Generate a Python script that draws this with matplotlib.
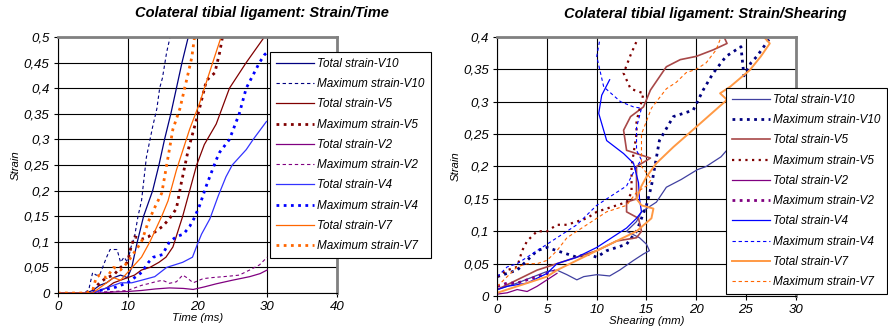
import matplotlib
matplotlib.use("Agg")
import matplotlib.pyplot as plt
from matplotlib.ticker import MultipleLocator, FuncFormatter

plt.rcParams['font.family'] = ['Liberation Sans', 'DejaVu Sans']

# ---- Strain / Time (left) ----
t_tot_v10 = [0, 4, 5, 6, 7, 8, 9, 10, 10.6, 11.4, 12.3, 13.6, 14.5, 15.3, 16.2, 17.0, 17.8, 18.7]
s_tot_v10 = [0, 0, 0.005, 0.015, 0.02, 0.03, 0.035, 0.03, 0.05, 0.1, 0.15, 0.2, 0.25, 0.3, 0.35, 0.4, 0.45, 0.5]
t_max_v10 = [4, 4.5, 5, 5.5, 6, 7, 7.5, 8.5, 9, 9.5, 10, 10.5, 11, 11.5, 12, 12.7, 13.6, 14.2, 14.6, 15, 15.6, 16.1]
s_max_v10 = [0, 0.01, 0.04, 0.035, 0.035, 0.07, 0.085, 0.085, 0.06, 0.07, 0.06, 0.09, 0.11, 0.15, 0.18, 0.265, 0.325, 0.36, 0.40, 0.42, 0.47, 0.5]
t_tot_v5 = [0, 5, 6, 7, 8, 9, 10, 11, 12, 13.2, 14.5, 15.5, 16.5, 17.2, 17.9, 18.7, 19.9, 21, 22.7, 24.6, 27, 29.6]
s_tot_v5 = [0, 0, 0.005, 0.01, 0.02, 0.025, 0.03, 0.035, 0.045, 0.05, 0.06, 0.07, 0.09, 0.12, 0.15, 0.19, 0.25, 0.29, 0.33, 0.40, 0.45, 0.5]
t_max_v5 = [4, 5, 6, 7, 8, 9, 10, 10.5, 11, 12, 13, 14, 15, 16, 17, 17.7, 18.7, 19.6, 20.3, 21.3, 22.5, 23.2, 23.6]
s_max_v5 = [0, 0.005, 0.02, 0.03, 0.035, 0.05, 0.06, 0.09, 0.11, 0.105, 0.11, 0.12, 0.13, 0.145, 0.165, 0.215, 0.28, 0.325, 0.36, 0.415, 0.43, 0.47, 0.5]
t_tot_v2 = [0, 6, 8, 10, 12, 14, 16, 18, 19.4, 21, 22.7, 25, 27.5, 29, 30]
s_tot_v2 = [0, 0, 0.002, 0.003, 0.005, 0.008, 0.01, 0.009, 0.007, 0.012, 0.018, 0.025, 0.032, 0.038, 0.045]
t_max_v2 = [4, 6, 8, 10, 11, 12, 13.2, 14, 15, 16, 17, 17.9, 18.5, 19.4, 20.8, 22, 24.6, 26, 27.5, 28.9, 30]
s_max_v2 = [0, 0.002, 0.003, 0.005, 0.01, 0.015, 0.019, 0.022, 0.025, 0.019, 0.022, 0.035, 0.03, 0.02, 0.028, 0.03, 0.033, 0.035, 0.045, 0.055, 0.07]
t_tot_v4 = [0, 5, 6, 7, 8, 9, 10.6, 12, 13.9, 15.6, 17.9, 19.3, 20, 20.6, 21.8, 23, 24.1, 25, 27, 28, 29.9]
s_tot_v4 = [0, 0, 0.005, 0.01, 0.015, 0.02, 0.02, 0.025, 0.032, 0.05, 0.06, 0.07, 0.095, 0.115, 0.145, 0.19, 0.227, 0.25, 0.28, 0.3, 0.335]
t_max_v4 = [4, 6, 8, 9, 10, 11, 12, 13, 13.7, 15, 16, 17, 18, 18.9, 19.5, 20.3, 21.3, 22.7, 23.2, 24.6, 26, 27, 28.9, 29.6, 30]
s_max_v4 = [0, 0.005, 0.01, 0.015, 0.02, 0.03, 0.04, 0.06, 0.07, 0.075, 0.1, 0.11, 0.115, 0.13, 0.145, 0.17, 0.21, 0.26, 0.275, 0.3, 0.35, 0.4, 0.45, 0.465, 0.47]
t_tot_v7 = [0, 5, 6, 7, 8, 9, 10, 11, 12, 13.2, 14.9, 15.8, 17, 18.9, 20.3, 22.2, 23.4]
s_tot_v7 = [0, 0, 0.01, 0.02, 0.03, 0.025, 0.04, 0.055, 0.07, 0.1, 0.15, 0.18, 0.24, 0.32, 0.37, 0.45, 0.5]
t_max_v7 = [0, 4, 5, 5.5, 6, 7, 8, 9, 10, 11, 12, 13, 14, 14.9, 15.8, 16.5, 17.5, 18.7, 19.2, 19.6]
s_max_v7 = [0, 0, 0.005, 0.03, 0.035, 0.03, 0.05, 0.045, 0.06, 0.08, 0.1, 0.14, 0.17, 0.195, 0.265, 0.32, 0.36, 0.43, 0.46, 0.5]

# ---- Strain / Shearing (right) ----
h_tot_v10 = [0, 2, 5, 6, 7, 8, 8.7, 10, 11.3, 12.3, 13.7, 14.7, 15.3, 15, 14.3, 13, 14, 14.5, 16, 17, 18.5, 20.1, 21, 22.5, 23.7, 25]
s2_tot_v10 = [0.01, 0.02, 0.038, 0.04, 0.033, 0.025, 0.03, 0.033, 0.031, 0.04, 0.055, 0.065, 0.07, 0.08, 0.09, 0.1, 0.115, 0.13, 0.145, 0.168, 0.18, 0.195, 0.2, 0.215, 0.236, 0.26]
h_max_v10 = [0, 1, 2, 3, 4, 5, 6, 7, 8, 9, 10, 11, 12, 13, 14, 14.5, 15, 15.5, 16.3, 17.7, 19.7, 20.7, 21.7, 23, 24.5, 24.8, 25.5, 26.1, 27.4]
s2_max_v10 = [0.03, 0.035, 0.04, 0.055, 0.07, 0.075, 0.07, 0.065, 0.06, 0.065, 0.06, 0.07, 0.075, 0.08, 0.1, 0.12, 0.14, 0.17, 0.24, 0.277, 0.287, 0.318, 0.344, 0.37, 0.385, 0.34, 0.36, 0.37, 0.398]
h_tot_v5 = [0, 2, 4, 6, 8, 10, 12, 14, 14.5, 14.2, 13, 13, 14, 14, 14, 15.4, 13, 12.7, 13.4, 14.7, 15.4, 17, 18.4, 20, 21.7, 23.1, 22.8]
s2_tot_v5 = [0.01, 0.025, 0.04, 0.05, 0.06, 0.07, 0.085, 0.09, 0.1, 0.12, 0.13, 0.145, 0.15, 0.17, 0.2, 0.213, 0.225, 0.256, 0.277, 0.292, 0.318, 0.354, 0.365, 0.37, 0.38, 0.39, 0.4]
h_max_v5 = [0, 1, 2, 2.5, 3, 4, 5, 6, 7, 8, 9, 10, 11, 12, 13, 13.5, 13.5, 14, 14, 14.5, 14.7, 13.4, 12.7, 13.4, 14]
s2_max_v5 = [0.03, 0.04, 0.045, 0.07, 0.085, 0.1, 0.1, 0.11, 0.11, 0.115, 0.12, 0.13, 0.135, 0.14, 0.145, 0.16, 0.2, 0.25, 0.27, 0.3, 0.313, 0.32, 0.344, 0.372, 0.393]
h_tot_v2 = [0, 1, 2, 3, 4, 5, 6]
s2_tot_v2 = [0.003, 0.005, 0.01, 0.007, 0.015, 0.025, 0.035]
h_max_v2 = [0, 1, 2, 3, 4, 5, 6]
s2_max_v2 = [0.015, 0.02, 0.02, 0.025, 0.03, 0.035, 0.04]
h_tot_v4 = [0, 1, 3, 5, 6, 8, 10, 12, 13, 14, 14.5, 14.3, 14.2, 13.7, 12.7, 11, 10.2, 10.5, 11, 11.3]
s2_tot_v4 = [0.01, 0.015, 0.02, 0.035, 0.05, 0.06, 0.075, 0.095, 0.105, 0.12, 0.13, 0.15, 0.175, 0.205, 0.22, 0.24, 0.282, 0.31, 0.325, 0.334]
h_max_v4 = [0, 1, 2, 3, 4, 5, 6, 7, 8, 9, 10, 11, 12, 13, 13.5, 14, 14.5, 14, 14, 14.5, 13.7, 12.4, 10.7, 10, 10.3]
s2_max_v4 = [0.03, 0.045, 0.05, 0.06, 0.07, 0.08, 0.09, 0.1, 0.11, 0.125, 0.14, 0.15, 0.16, 0.17, 0.185, 0.2, 0.21, 0.225, 0.26, 0.29, 0.292, 0.3, 0.323, 0.37, 0.395]
h_tot_v7 = [0, 2, 4, 5, 6, 8, 10, 12, 14, 15.5, 15.7, 14.5, 14, 14.5, 15, 16, 17.7, 20, 23.1, 22.4, 23.4, 25.4, 26.5, 27.4, 26.8]
s2_tot_v7 = [0.005, 0.015, 0.025, 0.03, 0.04, 0.055, 0.07, 0.085, 0.1, 0.12, 0.135, 0.14, 0.15, 0.17, 0.184, 0.205, 0.23, 0.261, 0.303, 0.313, 0.323, 0.349, 0.37, 0.39, 0.4]
h_max_v7 = [0, 1, 2, 3, 4, 5, 6, 7, 8, 9, 10, 11, 12, 13, 14, 15, 15.5, 14.5, 14.5, 15, 15.5, 16, 17, 18, 19, 20, 21, 22, 22.5]
s2_max_v7 = [0.015, 0.03, 0.045, 0.05, 0.05, 0.055, 0.07, 0.09, 0.1, 0.11, 0.12, 0.13, 0.135, 0.14, 0.16, 0.17, 0.18, 0.2, 0.25, 0.27, 0.29, 0.3, 0.32, 0.33, 0.345, 0.35, 0.36, 0.38, 0.4]

labels = ['Total strain-V10', 'Maximum strain-V10', 'Total strain-V5', 'Maximum strain-V5',
          'Total strain-V2', 'Maximum strain-V2', 'Total strain-V4', 'Maximum strain-V4',
          'Total strain-V7', 'Maximum strain-V7']

thin = dict(ls=(0, (3, 2.5)), lw=0.8)
thick = dict(ls=(0, (1, 1.6)), lw=2.0)
solid = dict(ls='-', lw=0.9)

left_series = [
    (t_tot_v10, s_tot_v10, '#000080', solid),
    (t_max_v10, s_max_v10, '#000080', thin),
    (t_tot_v5, s_tot_v5, '#800000', solid),
    (t_max_v5, s_max_v5, '#800000', thick),
    (t_tot_v2, s_tot_v2, '#800080', solid),
    (t_max_v2, s_max_v2, '#800080', thin),
    (t_tot_v4, s_tot_v4, '#3333ff', solid),
    (t_max_v4, s_max_v4, '#0000ff', thick),
    (t_tot_v7, s_tot_v7, '#ff6600', solid),
    (t_max_v7, s_max_v7, '#ff6600', thick),
]
right_series = [
    (h_tot_v10, s2_tot_v10, '#4040a0', solid),
    (h_max_v10, s2_max_v10, '#000080', thick),
    (h_tot_v5, s2_tot_v5, '#a84848', dict(ls='-', lw=1.2)),
    (h_max_v5, s2_max_v5, '#800000', dict(ls=(0, (1, 2)), lw=1.6)),
    (h_tot_v2, s2_tot_v2, '#800080', solid),
    (h_max_v2, s2_max_v2, '#800080', thick),
    (h_tot_v4, s2_tot_v4, '#0000ff', solid),
    (h_max_v4, s2_max_v4, '#0000ff', thin),
    (h_tot_v7, s2_tot_v7, '#ff9944', dict(ls='-', lw=1.4)),
    (h_max_v7, s2_max_v7, '#ff6600', thin),
]

comma = FuncFormatter(lambda v, p: ('%g' % round(v, 4)).replace('.', ','))


def style_axes(ax, xmax, xstep, ymax, xlabel):
    ax.set_xlim(0, xmax)
    ax.set_ylim(0, ymax)
    ax.xaxis.set_major_locator(MultipleLocator(xstep))
    ax.yaxis.set_major_locator(MultipleLocator(0.05))
    ax.yaxis.set_major_formatter(comma)
    ax.grid(True, color='black', lw=0.8)
    ax.set_axisbelow(True)
    for side in ['top', 'right']:
        ax.spines[side].set_color('#808080')
        ax.spines[side].set_linewidth(2)
    for side in ['left', 'bottom']:
        ax.spines[side].set_color('black')
        ax.spines[side].set_linewidth(0.8)
    ax.tick_params(labelsize=9.5, length=3, width=0.8, pad=3)
    for lb in ax.get_xticklabels() + ax.get_yticklabels():
        lb.set_style('italic')
    ax.set_xlabel(xlabel, fontsize=8.2, style='italic', labelpad=0)
    ax.set_ylabel('Strain', fontsize=8.2, style='italic', labelpad=2)


fig = plt.figure(figsize=(8.88, 3.33), dpi=100)
ax1 = fig.add_axes([0.065, 0.120, 0.3145, 0.769])
ax2 = fig.add_axes([0.560, 0.111, 0.336, 0.778])

for ax, series in [(ax1, left_series), (ax2, right_series)]:
    for (x, y, c, st), lab in zip(series, labels):
        ax.plot(x, y, color=c, label=lab, clip_on=True, **st)

style_axes(ax1, 40, 10, 0.5, 'Time (ms)')
style_axes(ax2, 30, 5, 0.4, 'Shearing (mm)')

leg_kw = dict(loc='upper left', prop={'style': 'italic', 'size': 8.5},
              frameon=True, fancybox=False, handlelength=3.2, handletextpad=0.3,
              labelspacing=0.7, borderpad=0.5, borderaxespad=0)
l1 = ax1.legend(bbox_to_anchor=(270 / 888, 1 - 52 / 333), bbox_transform=fig.transFigure, **leg_kw)
l2 = ax2.legend(bbox_to_anchor=(726 / 888, 1 - 88 / 333), bbox_transform=fig.transFigure, **leg_kw)
for lg in (l1, l2):
    lg.get_frame().set_edgecolor('black')
    lg.get_frame().set_linewidth(0.8)
    lg.get_frame().set_alpha(1)

fig.text(262 / 888, 1 - 13 / 333, 'Colateral tibial ligament: Strain/Time', ha='center', va='center',
         fontsize=10.5, fontweight='bold', style='italic')
fig.text(705 / 888, 1 - 14 / 333, 'Colateral tibial ligament: Strain/Shearing', ha='center', va='center',
         fontsize=10.5, fontweight='bold', style='italic')

fig.savefig('out.png', dpi=100)
